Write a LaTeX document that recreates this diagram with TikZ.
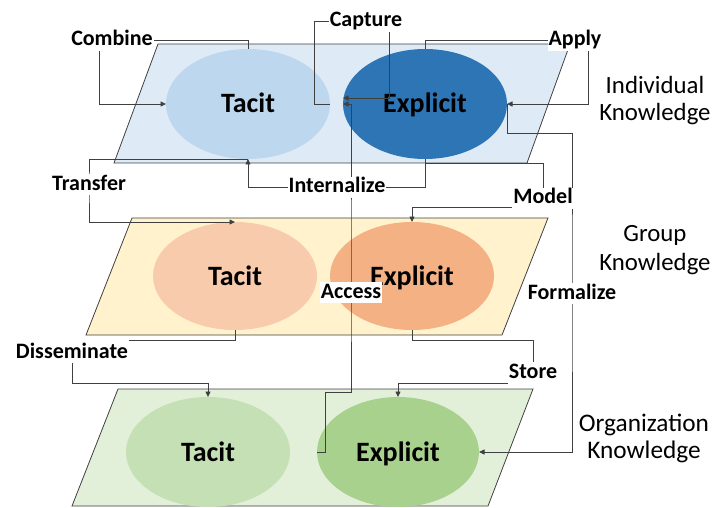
\documentclass[tikz,border=0pt]{standalone}
\usepackage{fontspec}
\setmainfont{Carlito}
\usetikzlibrary{shapes.geometric,arrows.meta}

\definecolor{planeT}{HTML}{DEEBF7}
\definecolor{tacitT}{HTML}{BDD7EE}
\definecolor{explT}{HTML}{2E75B6}
\definecolor{planeM}{HTML}{FFF2CC}
\definecolor{tacitM}{HTML}{F8CBAD}
\definecolor{explM}{HTML}{F4B183}
\definecolor{planeB}{HTML}{E2F0D9}
\definecolor{tacitB}{HTML}{C5E0B4}
\definecolor{explB}{HTML}{A9D18E}
\definecolor{wire}{HTML}{404040}

\pgfdeclarelayer{back}
\pgfdeclarelayer{wires}
\pgfsetlayers{back,wires,main}

\begin{document}
\begin{tikzpicture}[x=1pt,y=-1pt,
  plane/.style={draw=wire, line width=0.8pt},
  blob/.style={ellipse, inner sep=0pt, outer sep=0pt,
    minimum width=164pt, minimum height=110pt,
    font=\fontsize{28}{30}\selectfont\bfseries,
    text height=18pt, text depth=0pt},
  conn/.style={draw=wire, line width=0.8pt},
  arr/.style={conn, -{Triangle[length=5.5pt,width=5pt]}},
  lbl/.style={fill=white, inner xsep=1pt, inner ysep=1pt, anchor=base,
    font=\fontsize{22}{24}\selectfont\bfseries,
    text height=15pt, text depth=4pt},
  level/.style={align=center}
]
\useasboundingbox (0,0) rectangle (715,508);

\begin{pgfonlayer}{back}
% knowledge planes
\draw[plane, fill=planeT] (158,44) -- (570,44) -- (527,163) -- (114,163) -- cycle;
\draw[plane, fill=planeM] (132,218) -- (548,218) -- (502,335) -- (86,335) -- cycle;
\draw[plane, fill=planeB] (118,389) -- (533,389) -- (488,506) -- (72,506) -- cycle;

% tacit and explicit knowledge on each level
\node[blob, fill=tacitT] (tt) at (248,104) {Tacit};
\node[blob, fill=explT]  (te) at (425,104) {Explicit};
\node[blob, fill=tacitM, minimum height=108pt] (mt) at (235,276) {Tacit};
\node[blob, fill=explM,  minimum height=108pt] (me) at (412,276) {Explicit};
\node[blob, fill=tacitB] (bt) at (208,452) {Tacit};
\node[blob, fill=explB, minimum width=162pt]  (be) at (398,452) {Explicit};
\end{pgfonlayer}

% level captions
\node[level, font=\fontsize{24.8}{27}\selectfont] (lind) at (655,100.5) {Individual\\Knowledge};
\node[level, font=\fontsize{24.8}{29}\selectfont] (lgrp) at (655,250) {Group\\Knowledge};
\node[level, font=\fontsize{25.3}{27}\selectfont] (lorg) at (644,438) {Organization\\Knowledge};

% process labels
\node[lbl] (comb)  at (112,46)  {Combine};
\node[lbl] (capt)  at (366,27)  {Capture};
\node[lbl] (appl)  at (575,46)  {Apply};
\node[lbl] (trans) at (89,190)  {Transfer};
\node[lbl] (intz)  at (337,193) {Internalize};
\node[lbl] (modl)  at (543,204) {Model};
\node[lbl] (acc)   at (351,298) {Access};
\node[lbl] (form)  at (572,299) {Formalize};
\node[lbl] (diss)  at (72,358)  {Disseminate};
\node[lbl] (stor)  at (533,378) {Store};

% connectors, kept under the labels
\begin{pgfonlayer}{wires}
\draw[arr] (tt.north) |- (comb.center) -- (99,40.5) |- (tt.west);                 % combine
\draw[arr] (tt.east) -- (314,104) |- (capt.center) -- (389,21.5) |- (343,98);     % capture
\draw[arr] (te.north) |- (appl.center) -- (588,40.5) |- (te.east);                % apply
\draw[arr] (te.south) |- (intz.center) -| (tt.south);                             % internalize
\draw[arr] (tt.south) -| (trans.center) |- (mt.north);                            % transfer
\draw[conn] (te.south) -- (425,163) -| (modl.north);                              % model
\draw[arr] (modl.west |- 0,207) -| (me.north);
\draw[arr] (te.east) -- (507,133) -| (form.center) |- (be.east);                  % formalize
\draw[arr] (be.west) -- (325,452) -- (325,392) -| (acc.center) -- (351,104) -- (te.west); % access
\draw[conn] (mt.south) -- (235,340) -- (diss.east |- 0,340);                      % disseminate
\draw[arr] (diss.south) -- (72,383) -| (bt.north);
\draw[conn] (me.south) -- (412,340) -| (stor.north);                              % store
\draw[arr] (stor.west |- 0,383) -| (be.north);
\end{pgfonlayer}
\end{tikzpicture}
\end{document}
